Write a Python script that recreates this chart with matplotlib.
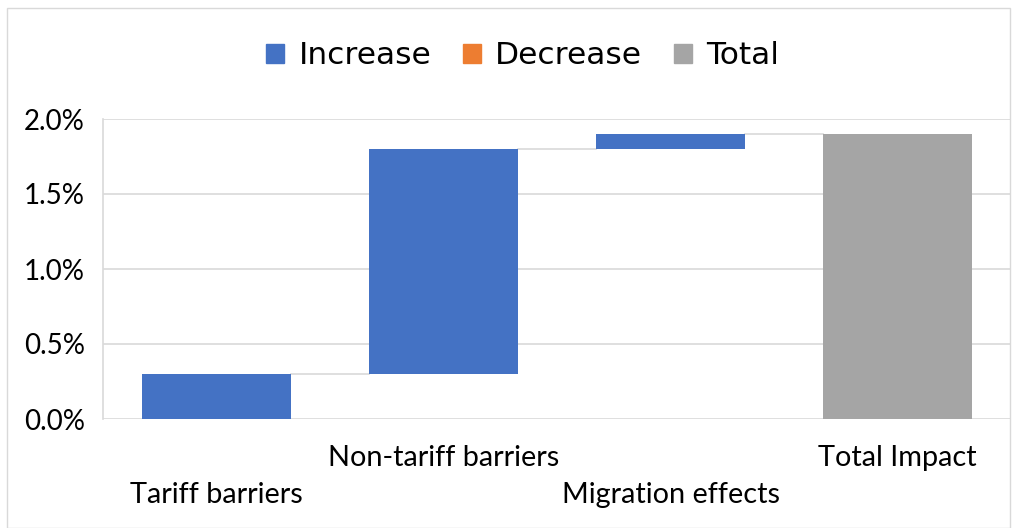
import matplotlib.pyplot as plt
from matplotlib.patches import Rectangle
from matplotlib.ticker import FuncFormatter

# Waterfall data (percent)
categories = ["Tariff barriers", "Non-tariff barriers", "Migration effects", "Total Impact"]
changes = [0.3, 1.5, 0.1]
total = 1.9

blue = "#4472C4"
orange = "#ED7D31"
gray = "#A5A5A5"
grid_col = "#D9D9D9"

fig = plt.figure(figsize=(10.17, 5.28), dpi=100)
ax = fig.add_axes([103 / 1017, 1 - 419 / 528, 908 / 1017, 300 / 528])

# compute bottoms for the increase bars
bottoms = []
running = 0.0
for c in changes:
    bottoms.append(running)
    running += c

x = list(range(len(categories)))
w = 0.66
ax.bar(x[:3], changes, bottom=bottoms, width=w, color=blue, zorder=3)
ax.bar(x[3], total, width=w, color=gray, zorder=3)

# connector lines between bars
tops = [b + c for b, c in zip(bottoms, changes)]
for i, t in enumerate(tops):
    ax.plot([i + w / 2, i + 1 - w / 2], [t, t], color=grid_col, lw=1.2, zorder=2)

ax.set_xlim(-0.5, 3.5)
ax.set_ylim(0, 2.0)
ax.set_yticks([0, 0.5, 1.0, 1.5, 2.0])
ax.yaxis.set_major_formatter(FuncFormatter(lambda v, p: f"{v:.1f}%"))
ax.grid(axis="y", color=grid_col, lw=1.2, zorder=0)
ax.set_axisbelow(True)
for s in ["top", "right", "bottom"]:
    ax.spines[s].set_visible(False)
ax.spines["left"].set_color(grid_col)
ax.spines["left"].set_linewidth(1.2)
ax.tick_params(axis="y", length=0, pad=13, labelsize=20)
for lab in ax.get_yticklabels():
    lab.set_family("Lato")
ax.set_xticks([])

# staggered category labels
for i, name in enumerate(categories):
    y = 495 if i % 2 == 0 else 458
    fig.text((103 + (i + 0.5) * 227) / 1017, 1 - y / 528, name, ha="center", va="center",
             fontsize=20.8, family="Lato")

# legend
handles = [Rectangle((0, 0), 1, 1, color=c) for c in [blue, orange, gray]]
fig.legend(handles, ["Increase", "Decrease", "Total"], loc="center",
           bbox_to_anchor=(0.5 + 14 / 1017, 1 - 56 / 528),
           ncol=3, frameon=False, handlelength=0.6, handleheight=0.6,
           handletextpad=0.45, columnspacing=1.0, prop={"family": "DejaVu Sans", "size": 22.5})

# outer chart border
fig.patches.append(Rectangle((7 / 1017, 0), 1 - 14 / 1017, 1 - 8 / 528, transform=fig.transFigure,
                             fill=False, edgecolor=grid_col, lw=1))

fig.savefig("out.png", dpi=100)
